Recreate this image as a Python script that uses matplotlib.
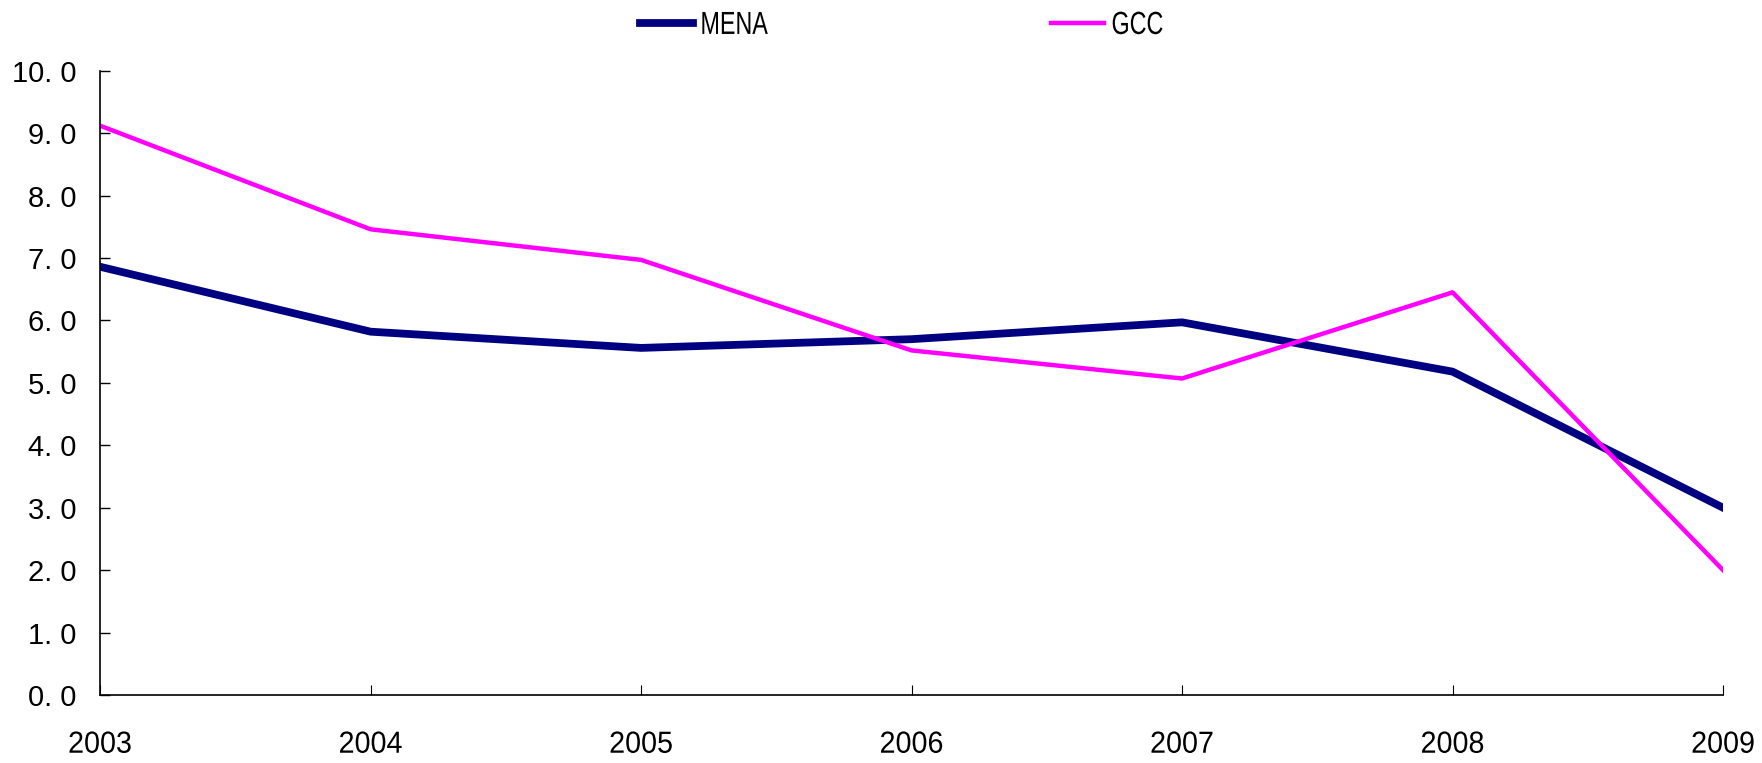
import matplotlib.pyplot as plt
from matplotlib import patheffects
from matplotlib.transforms import Affine2D

years = [2003, 2004, 2005, 2006, 2007, 2008, 2009]
mena = [6.86, 5.82, 5.56, 5.70, 5.97, 5.18, 3.00]
gcc = [9.12, 7.46, 6.97, 5.52, 5.07, 6.45, 2.00]
y_ticks = [0, 1, 2, 3, 4, 5, 6, 7, 8, 9, 10]

font = ['Liberation Sans', 'DejaVu Sans']


# Squeeze a text horizontally (the reference uses a condensed face)
class Squeeze(patheffects.AbstractPathEffect):
    def __init__(self, sx, anchor=0.5):
        super().__init__()
        self.sx = sx
        self.anchor = anchor

    def draw_path(self, renderer, gc, tpath, affine, rgbFace=None):
        ext = tpath.get_extents()
        a = ext.x0 + self.anchor * ext.width
        t = Affine2D().translate(-a, 0).scale(self.sx, 1).translate(a, 0) + affine
        renderer.draw_path(gc, tpath, t, rgbFace)


fig = plt.figure(figsize=(17.62, 7.63), dpi=100)
ax = fig.add_axes([0.0568, 0.0891, 0.9211, 0.8182])

ax.plot(years, mena, color='#000080', lw=5.6, label='MENA')
ax.plot(years, gcc, color='#FF00FF', lw=3.2, label='GCC')

ax.set_xlim(2003, 2009)
ax.set_ylim(0, 10)
ax.set_xticks(years)
ax.set_xticklabels([str(y) for y in years], family=font, fontsize=22)
ax.set_yticks(y_ticks)
ax.set_yticklabels([f'{v:.1f}'.replace('.', '. ') for v in y_ticks], family=font, fontsize=21)
for lbl in ax.get_xticklabels():
    lbl.set_path_effects([Squeeze(0.94, 0.5)])

ax.tick_params(axis='y', direction='in', length=7, width=1, pad=17)
ax.tick_params(axis='x', direction='in', length=7, width=0.8, pad=25)
for side in ['top', 'right']:
    ax.spines[side].set_visible(False)
for side in ['left', 'bottom']:
    ax.spines[side].set_linewidth(1.2)

leg = ax.legend(loc='center', bbox_to_anchor=(0.517, 0.966), bbox_transform=fig.transFigure,
                ncol=2, frameon=False, handlelength=1.66, handletextpad=0.22,
                columnspacing=8.1, prop={'family': font, 'size': 23})
for txt in leg.get_texts():
    txt.set_path_effects([Squeeze(0.73, 0.0)])

fig.savefig('out.png', dpi=100)
